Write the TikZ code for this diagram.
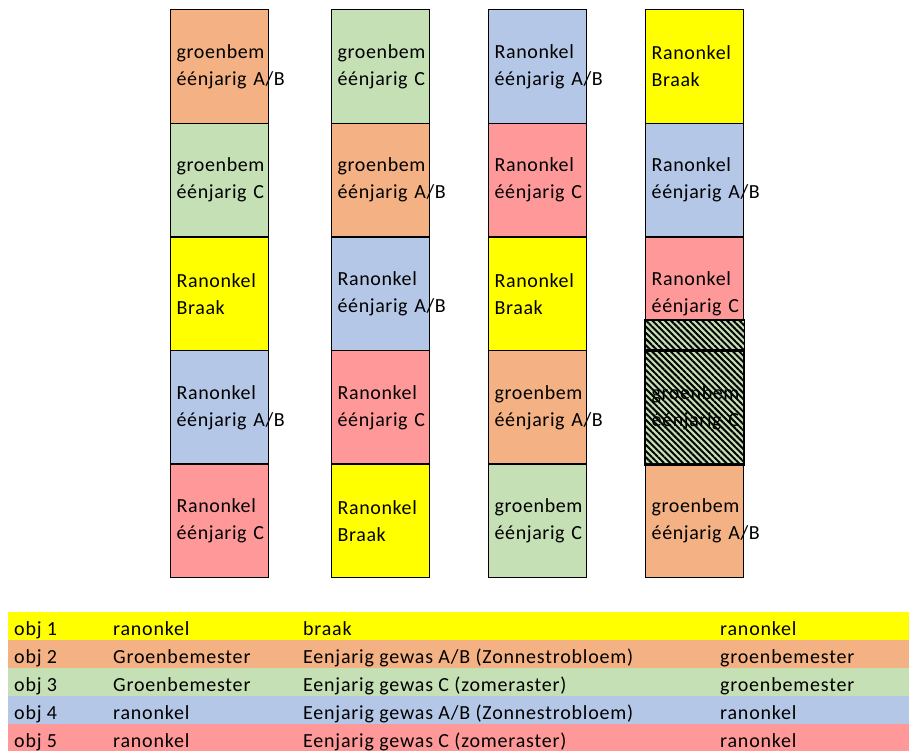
\documentclass[tikz,border=0pt]{standalone}
\usepackage{fontspec}
\setmainfont{Carlito}
\newfontfamily\bedfont[LetterSpace=3]{Carlito}
\newfontfamily\legfont[LetterSpace=4]{Carlito}
\usepackage{xcolor}
\definecolor{bedyellow}{HTML}{FFFF00}
\definecolor{bedorange}{HTML}{F4B183}
\definecolor{bedgreen}{HTML}{C5E0B4}
\definecolor{bedblue}{HTML}{B4C7E7}
\definecolor{bedred}{HTML}{FF9999}
\usepackage{tikz}
\usetikzlibrary{patterns.meta}

% two lines of a bed, never broken
\newcommand{\bedlines}[2]{\mbox{#1}\\\mbox{#2}}

\tikzset{
  bed/.style={draw=black,line width=1.4pt,fill=#1,anchor=north west,
    minimum width=98pt,minimum height=113.6pt,inner sep=0pt,
    text width=86pt,align=left,font=\bedfont\fontsize{20}{27}\selectfont},
  legrow/.style={fill=#1,anchor=north west,inner sep=0pt,
    minimum width=901pt,minimum height=28pt},
  legtxt/.style={anchor=base west,inner sep=0pt,font=\legfont\fontsize{20}{24}\selectfont},
  hatch/.style={pattern={Lines[angle=-45,distance=4.4pt,line width=2pt]},pattern color=black}
}

\begin{document}
\begin{tikzpicture}[x=1pt,y=-1pt]
\useasboundingbox (0,0) rectangle (909,751);

% column 1
\node[bed=bedorange] (a1) at (170,9)     {\bedlines{groenbem}{éénjarig A/B}};
\node[bed=bedgreen]  (a2) at (170,122.6) {\bedlines{groenbem}{éénjarig C}};
\node[bed=bedyellow] (a3) at (170,236.2) {\bedlines{Ranonkel}{Braak}};
\node[bed=bedblue]   (a4) at (170,349.8) {\bedlines{Ranonkel}{éénjarig A/B}};
\node[bed=bedred]    (a5) at (170,463.4) {\bedlines{Ranonkel}{éénjarig C}};

% column 2
\node[bed=bedgreen]  (b1) at (331,9)     {\bedlines{groenbem}{éénjarig C}};
\node[bed=bedorange] (b2) at (331,122.6) {\bedlines{groenbem}{éénjarig A/B}};
\node[bed=bedblue]   (b3) at (331,236.2) {\bedlines{Ranonkel}{éénjarig A/B}};
\node[bed=bedred]    (b4) at (331,349.8) {\bedlines{Ranonkel}{éénjarig C}};
\node[bed=bedyellow] (b5) at (331,463.4) {\bedlines{Ranonkel}{Braak}};

% column 3
\node[bed=bedblue]   (c1) at (488,9)     {\bedlines{Ranonkel}{éénjarig A/B}};
\node[bed=bedred]    (c2) at (488,122.6) {\bedlines{Ranonkel}{éénjarig C}};
\node[bed=bedyellow] (c3) at (488,236.2) {\bedlines{Ranonkel}{Braak}};
\node[bed=bedorange] (c4) at (488,349.8) {\bedlines{groenbem}{éénjarig A/B}};
\node[bed=bedgreen]  (c5) at (488,463.4) {\bedlines{groenbem}{éénjarig C}};

% column 4, with the hatched part
\node[bed=bedyellow] (d1) at (645,9)     {\bedlines{Ranonkel}{Braak}};
\node[bed=bedblue]   (d2) at (645,122.6) {\bedlines{Ranonkel}{éénjarig A/B}};
\node[bed=bedred]    (d3) at (645,236.2) {\bedlines{Ranonkel}{éénjarig C}};
\node[bed=bedgreen]  (d4) at (645,349.8) {\bedlines{groenbem}{éénjarig C}};
\node[bed=bedorange] (d5) at (645,463.4) {\bedlines{groenbem}{éénjarig A/B}};
\coordinate (h0) at (645,320);
\fill[bedgreen] (h0) rectangle (d3.south east);
\path[hatch] (h0) rectangle (d4.south east);
\draw[line width=1.4pt] (h0) rectangle (d3.south east);
\draw[line width=1.4pt] (d4.north west) rectangle (d4.south east);

% legend
\node[legrow=bedyellow] (l1) at (8,612) {};
\node[legrow=bedorange] (l2) at (8,640) {};
\node[legrow=bedgreen]  (l3) at (8,668) {};
\node[legrow=bedblue]   (l4) at (8,696) {};
\node[legrow=bedred]    (l5) at (8,724) {};

\node[legtxt] (l1a) at (14,635)  {obj 1};
\node[legtxt] (l1b) at (113,635) {ranonkel};
\node[legtxt] (l1c) at (303,635) {braak};
\node[legtxt] (l1d) at (720,635) {ranonkel};

\node[legtxt] (l2a) at (14,663)  {obj 2};
\node[legtxt] (l2b) at (113,663) {Groenbemester};
\node[legtxt] (l2c) at (303,663) {Eenjarig gewas A/B (Zonnestrobloem)};
\node[legtxt] (l2d) at (720,663) {groenbemester};

\node[legtxt] (l3a) at (14,691)  {obj 3};
\node[legtxt] (l3b) at (113,691) {Groenbemester};
\node[legtxt] (l3c) at (303,691) {Eenjarig gewas C (zomeraster)};
\node[legtxt] (l3d) at (720,691) {groenbemester};

\node[legtxt] (l4a) at (14,719)  {obj 4};
\node[legtxt] (l4b) at (113,719) {ranonkel};
\node[legtxt] (l4c) at (303,719) {Eenjarig gewas A/B (Zonnestrobloem)};
\node[legtxt] (l4d) at (720,719) {ranonkel};

\node[legtxt] (l5a) at (14,747)  {obj 5};
\node[legtxt] (l5b) at (113,747) {ranonkel};
\node[legtxt] (l5c) at (303,747) {Eenjarig gewas C (zomeraster)};
\node[legtxt] (l5d) at (720,747) {ranonkel};
\end{tikzpicture}
\end{document}
